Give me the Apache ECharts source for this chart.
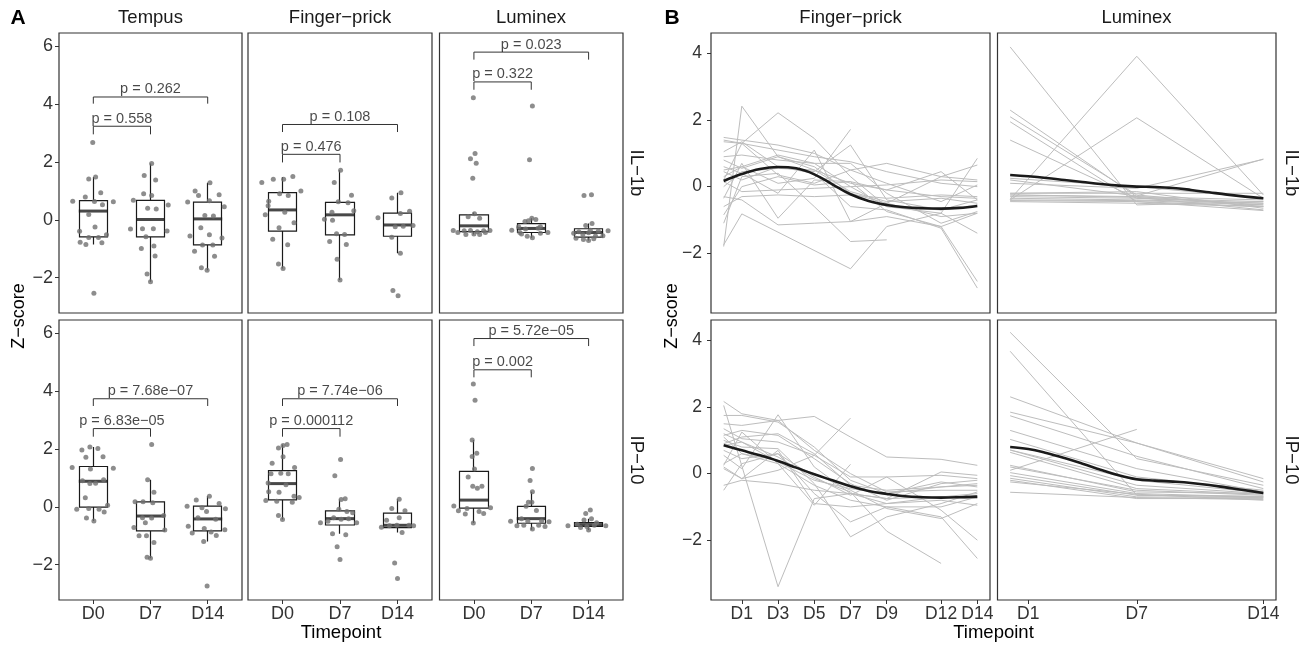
<!DOCTYPE html>
<html>
<head>
<meta charset="utf-8">
<script src="https://cdn.jsdelivr.net/npm/echarts@6/dist/echarts.min.js"></script>
<style>
  html, body { margin: 0; background: #fff; }
  #chart { width: 1307px; height: 646px; }
</style>
</head>
<body>
<div id="chart"></div>
<script>
// ---- data ----
const timepoints = ['D0', 'D7', 'D14'];
const fpDays = [0, 1, 3, 5, 7, 9, 12, 14];
const lumDays = [0, 7, 14];
const smoothDays = [0, 1, 2, 3, 4, 5, 6, 7, 8, 9, 10, 11, 12, 13, 14];
const fpTicks = [1, 3, 5, 7, 9, 12, 14];
const lumTicks = [1, 7, 14];

// box stats per timepoint: [lower whisker, Q1, median, Q3, upper whisker]
const tempusIL1bBox = [[-0.85, -0.59, 0.30, 0.66, 1.48], [-2.14, -0.59, 0.01, 0.67, 1.94], [-1.74, -0.87, 0.03, 0.61, 1.28]];
const fingerIL1bBox = [[-1.68, -0.39, 0.34, 0.94, 1.48], [-2.08, -0.52, 0.17, 0.60, 1.71], [-1.16, -0.57, -0.18, 0.23, 0.93]];
const luminexIL1bBox = [[-0.51, -0.41, -0.21, 0.17, 0.25], [-0.62, -0.44, -0.30, -0.13, 0.05], [-0.72, -0.60, -0.44, -0.31, -0.13]];
const tempusIP10Box = [[-0.49, -0.01, 0.88, 1.39, 2.06], [-1.78, -0.83, -0.32, 0.17, 0.93], [-1.20, -0.83, -0.42, 0.02, 0.36]];
const fingerIP10Box = [[-0.44, 0.24, 0.80, 1.25, 2.15], [-0.93, -0.63, -0.41, -0.14, 0.25], [-0.89, -0.72, -0.64, -0.22, 0.26]];
const luminexIP10Box = [[-0.56, -0.05, 0.23, 1.22, 2.31], [-0.79, -0.57, -0.41, 0.01, 0.52], [-0.80, -0.68, -0.62, -0.55, -0.41]];

// jittered points per timepoint: [jitter offset, z-score]
const tempusIL1bPts = [
  [[-0.01,2.67],[-0.08,1.41],[0.04,1.48],[-0.36,0.64],[0.35,0.62],[-0.14,0.79],[0.13,0.93],[0.02,0.63],[0.16,0.52],[-0.08,0.18],[0.03,-0.25],[-0.24,-0.40],[0.23,-0.52],[-0.08,-0.61],[0.09,-0.61],[-0.23,-0.78],[-0.13,-0.85],[0.15,-0.79],[0.01,-2.54]],
  [[0.02,1.94],[-0.11,1.53],[0.09,1.37],[-0.12,0.90],[0.02,0.84],[-0.30,0.67],[0.31,0.51],[-0.05,0.40],[0.10,0.37],[-0.35,-0.32],[-0.14,-0.31],[0.05,-0.31],[0.29,-0.39],[-0.08,-0.59],[-0.16,-0.99],[0.06,-0.91],[0.08,-1.25],[-0.06,-1.87],[0.00,-2.14]],
  [[0.04,1.28],[-0.22,0.99],[-0.16,0.84],[0.20,0.86],[-0.35,0.61],[0.03,0.66],[0.29,0.45],[-0.05,0.15],[0.10,0.13],[-0.12,-0.28],[-0.31,-0.56],[0.03,-0.52],[0.25,-0.63],[-0.09,-0.87],[0.09,-0.87],[-0.23,-1.09],[0.12,-1.26],[-0.11,-1.66],[-0.01,-1.74]]
];
const fingerIL1bPts = [
  [[0.02,1.40],[-0.16,1.40],[0.18,1.49],[-0.36,1.29],[0.32,0.99],[-0.05,0.90],[0.10,0.84],[-0.24,0.64],[-0.25,0.48],[0.04,0.26],[-0.30,0.17],[0.20,-0.10],[-0.06,-0.28],[-0.17,-0.67],[0.09,-0.86],[-0.07,-1.53],[0.01,-1.68]],
  [[0.01,1.71],[-0.10,1.29],[0.20,0.85],[-0.03,0.62],[0.14,0.59],[-0.14,0.26],[0.24,0.31],[-0.27,0.02],[-0.13,-0.02],[-0.06,-0.48],[0.08,-0.51],[-0.18,-0.75],[0.11,-0.85],[-0.05,-1.36],[0.00,-2.08]],
  [[0.06,0.93],[-0.10,0.75],[0.21,0.29],[0.05,0.22],[-0.34,0.07],[0.10,-0.22],[0.27,-0.20],[-0.04,-0.24],[-0.10,-0.60],[0.05,-1.16],[-0.08,-2.44],[0.01,-2.62]]
];
const luminexIL1bPts = [
  [[-0.01,4.21],[0.02,2.29],[-0.06,2.11],[0.04,1.95],[-0.02,1.43],[0.01,0.21],[-0.10,0.10],[0.10,0.05],[-0.36,-0.37],[-0.28,-0.44],[-0.17,-0.38],[-0.06,-0.37],[0.06,-0.41],[0.17,-0.38],[0.28,-0.37],[-0.14,-0.51],[0.00,-0.49],[0.10,-0.51],[0.20,-0.44]],
  [[0.02,3.93],[-0.03,2.07],[0.01,0.05],[-0.05,-0.03],[0.08,0.01],[-0.11,-0.06],[-0.22,-0.24],[-0.10,-0.32],[0.16,-0.24],[0.12,-0.29],[-0.34,-0.36],[-0.20,-0.44],[-0.07,-0.57],[0.02,-0.62],[0.16,-0.47],[0.29,-0.44],[-0.17,-0.49]],
  [[-0.08,0.84],[0.05,0.86],[0.06,-0.13],[-0.05,-0.20],[-0.17,-0.41],[0.17,-0.39],[0.34,-0.38],[0.03,-0.36],[-0.26,-0.47],[-0.10,-0.51],[0.00,-0.45],[0.12,-0.56],[0.25,-0.55],[-0.22,-0.64],[-0.09,-0.68],[0.00,-0.72],[0.09,-0.66]]
];
const tempusIP10Pts = [
  [[-0.06,2.06],[0.08,2.01],[-0.20,1.96],[-0.13,1.71],[0.17,1.73],[-0.37,1.36],[0.35,1.33],[-0.05,1.30],[-0.19,0.90],[-0.06,0.80],[0.04,0.81],[0.18,0.93],[-0.14,0.31],[-0.29,-0.09],[0.25,0.05],[-0.08,-0.06],[0.10,-0.09],[0.19,-0.18],[-0.12,-0.39],[0.01,-0.49]],
  [[0.02,2.15],[-0.05,0.93],[0.06,0.50],[-0.27,0.17],[-0.13,0.17],[0.04,0.14],[-0.14,-0.38],[0.02,-0.39],[0.23,-0.30],[-0.29,-0.72],[-0.09,-0.55],[0.25,-0.80],[-0.20,-1.00],[-0.07,-1.00],[0.06,-1.23],[-0.06,-1.74],[0.00,-1.78]],
  [[0.03,0.36],[-0.20,0.23],[0.20,0.11],[-0.36,0.02],[-0.10,-0.03],[0.31,-0.07],[-0.17,-0.38],[-0.02,-0.16],[0.14,-0.43],[-0.34,-0.67],[-0.06,-0.75],[-0.27,-0.91],[0.06,-0.87],[0.15,-0.99],[0.30,-0.79],[-0.07,-1.20],[-0.01,-2.74]]
];
const fingerIP10Pts = [
  [[0.08,2.15],[0.01,2.12],[-0.07,2.03],[0.01,1.73],[-0.18,1.50],[0.21,1.36],[-0.03,1.16],[0.10,1.14],[-0.20,1.14],[-0.25,0.82],[0.06,0.76],[-0.24,0.52],[-0.06,0.50],[0.20,0.36],[-0.29,0.22],[-0.10,0.19],[0.17,0.16],[0.29,0.32],[-0.07,-0.30],[0.00,-0.44]],
  [[0.01,1.63],[-0.09,1.07],[0.02,0.25],[0.09,0.28],[-0.02,-0.09],[0.12,-0.16],[0.22,-0.21],[-0.34,-0.55],[-0.21,-0.50],[-0.11,-0.38],[0.02,-0.43],[0.15,-0.41],[0.29,-0.55],[-0.13,-0.93],[0.10,-0.97],[-0.05,-1.38],[0.00,-1.82]],
  [[0.03,0.26],[-0.10,-0.06],[0.13,-0.14],[0.03,-0.38],[-0.19,-0.47],[-0.28,-0.71],[-0.14,-0.66],[-0.01,-0.64],[0.28,-0.66],[0.20,-0.64],[0.08,-0.89],[-0.05,-1.94],[0.00,-2.48]]
];
const luminexIP10Pts = [
  [[-0.01,4.24],[0.02,3.68],[-0.03,2.31],[-0.03,1.74],[0.05,1.85],[0.01,1.30],[-0.10,1.03],[-0.02,0.71],[0.06,0.64],[0.14,0.71],[-0.35,0.03],[-0.12,-0.06],[0.29,-0.03],[-0.27,-0.14],[0.09,-0.16],[0.17,-0.23],[-0.15,-0.25],[-0.01,-0.56]],
  [[0.02,1.32],[-0.02,0.91],[0.02,0.52],[-0.05,0.16],[0.01,0.16],[-0.09,0.02],[0.09,-0.13],[-0.36,-0.50],[-0.17,-0.41],[-0.06,-0.50],[0.18,-0.49],[0.31,-0.52],[-0.25,-0.66],[-0.13,-0.64],[0.02,-0.77],[0.13,-0.64],[0.24,-0.68]],
  [[0.03,-0.11],[-0.05,-0.23],[0.05,-0.41],[-0.08,-0.46],[-0.36,-0.66],[-0.20,-0.60],[-0.03,-0.68],[0.14,-0.55],[0.30,-0.66],[-0.14,-0.72],[0.00,-0.80],[0.10,-0.64]]
];

// p-value brackets: [label, second group, leg bottom, bar height]
const tempusIL1bP = [['p = 0.558', 2, 2.95, 3.23], ['p = 0.262', 3, 4.01, 4.24]];
const fingerIL1bP = [['p = 0.476', 2, 1.98, 2.26], ['p = 0.108', 3, 3.03, 3.29]];
const luminexIL1bP = [['p = 0.322', 2, 4.49, 4.76], ['p = 0.023', 3, 5.53, 5.79]];
const tempusIP10P = [['p = 6.83e\u221205', 2, 2.42, 2.70], ['p = 7.68e\u221207', 3, 3.48, 3.73]];
const fingerIP10P = [['p = 0.000112', 2, 2.42, 2.70], ['p = 7.74e\u221206', 3, 3.48, 3.73]];
const luminexIP10P = [['p = 0.002', 2, 4.47, 4.73], ['p = 5.72e\u221205', 3, 5.55, 5.81]];

// per-subject trajectories (panel B)
const fpIL1bLines = [
  [-1.80, 2.42, 0.90, 0.60, -0.20, -0.50, -0.90, -0.80],
  [0.20, 1.30, 2.22, 1.45, 0.30, -0.60, -0.80, -1.40],
  [1.48, 1.40, 1.25, 1.00, 0.50, 0.70, 0.30, 0.20],
  [1.35, 1.30, 1.10, 0.90, 0.75, 0.45, 0.10, 0.00],
  [1.05, 1.35, 0.60, 0.45, 1.25, -0.40, -0.70, -0.40],
  [0.80, 0.55, 0.90, 0.50, 0.10, -0.10, 0.45, -0.40],
  [0.60, 0.40, -0.20, 1.10, -1.05, -0.50, 0.30, 0.65],
  [-0.35, 0.70, -0.95, 0.20, 0.15, -0.75, -1.20, -2.85],
  [-1.75, -0.82, null, null, -2.47, -1.20, -0.80, 0.85],
  [-0.85, 0.00, 0.30, 0.05, 0.15, -0.10, -0.30, -0.35],
  [0.30, 0.60, 0.95, 0.70, 0.00, -0.60, -0.70, -0.55],
  [-0.60, -0.30, -0.25, -0.30, -0.25, -0.35, -0.25, -0.30],
  [0.15, -0.15, -0.10, -0.05, 0.00, 0.05, 0.20, 0.15],
  [-1.10, 0.30, 0.40, -0.60, -1.65, -1.60, null, null],
  [0.45, 0.20, 0.60, 0.40, -0.60, -0.70, -1.25, -3.05],
  [1.40, 1.30, 0.35, 0.10, 0.50, 0.10, -0.45, 0.05],
  [0.90, 0.95, 0.80, 0.70, 0.70, -0.20, -1.10, -0.75],
  [0.50, 0.60, 0.10, 0.25, 1.72, null, null, null],
  [-0.30, -0.40, -1.15, -1.10, -1.05, -0.90, -1.20, -0.80],
  [0.00, 0.45, 0.55, 0.50, -0.15, -0.45, -0.35, -0.50]
];
const fpIP10Lines = [
  [2.05, null, -3.40, -0.75, -0.60, -0.75, -0.70, -0.60],
  [2.17, 1.80, 1.60, 1.72, 1.10, 0.50, 0.43, 0.25],
  [1.75, 1.75, 1.55, 0.80, -0.20, -0.60, -0.40, -0.35],
  [1.50, 1.45, 1.60, 0.70, 0.00, -0.55, -0.50, -0.50],
  [1.35, 1.05, 0.95, 0.55, -0.10, -0.10, -1.10, -2.00],
  [1.15, 1.30, 1.15, 0.45, -0.30, -0.80, -0.30, -0.20],
  [1.00, 0.80, 0.75, -0.30, -1.90, -1.30, -0.90, -0.55],
  [0.85, 0.95, 0.50, -0.15, -0.55, -1.73, -2.70, null],
  [0.55, 0.15, 1.77, 0.20, -0.60, -0.90, -0.70, -0.75],
  [0.30, 0.60, 0.40, 0.00, -0.50, -1.05, -1.35, -0.90],
  [0.25, 1.25, 0.30, -0.95, 0.28, null, null, null],
  [0.20, -0.15, 0.10, 0.55, 1.67, null, null, null],
  [-0.35, -0.20, -0.30, -0.50, -0.60, -0.75, 0.05, -0.05],
  [-0.50, 0.30, 0.60, -0.10, -0.65, -0.10, -0.05, -0.15],
  [0.15, -0.15, 0.70, -0.90, -1.00, -0.90, -0.80, -0.95],
  [0.90, 1.10, 1.20, 0.60, -0.35, -0.50, -0.40, -0.30],
  [1.20, 0.95, 0.35, -0.20, -0.45, -0.60, -0.25, -0.40],
  [0.70, 0.45, 0.60, -0.60, -1.45, -1.00, -1.00, -0.70],
  [1.10, 0.60, 0.30, -0.35, -0.80, -1.00, -1.30, -2.55]
];
const lumIL1bLines = [
  [4.20, -0.55, -0.45], [-0.38, 3.92, -0.25], [-0.40, 2.07, -0.35], [2.30, -0.30, -0.55],
  [2.10, -0.25, -0.60], [1.95, -0.45, -0.60], [1.40, -0.35, -0.50], [0.20, -0.28, 0.83],
  [0.10, -0.05, 0.82], [-0.20, -0.20, -0.20], [-0.25, -0.30, -0.40], [-0.30, -0.35, -0.45],
  [-0.35, -0.40, -0.50], [-0.40, -0.42, -0.55], [-0.45, -0.50, -0.60], [-0.20, -0.15, -0.65],
  [-0.25, -0.32, -0.70], [-0.42, -0.45, -0.72], [0.25, 0.00, -0.35]
];
const lumIP10Lines = [
  [4.25, 0.45, -0.35], [3.68, -0.65, -0.70], [2.31, 0.92, -0.15], [1.85, 0.92, -0.25],
  [1.74, 0.52, -0.45], [1.30, 0.15, -0.55], [1.03, -0.10, -0.50], [0.10, 1.33, null],
  [0.71, -0.35, -0.60], [0.64, -0.45, -0.62], [0.25, -0.55, -0.60], [0.20, -0.50, -0.65],
  [0.03, -0.60, -0.70], [-0.06, -0.65, -0.68], [-0.14, -0.70, -0.72], [-0.20, -0.75, -0.75],
  [-0.25, -0.62, -0.80], [-0.56, -0.72, -0.78], [0.71, -0.20, -0.58]
];

// smoothed trends
const fpIL1bSmooth = [0.17, 0.38, 0.53, 0.59, 0.55, 0.37, 0.07, -0.23, -0.43, -0.55, -0.62, -0.65, -0.66, -0.64, -0.58];
const fpIP10Smooth = [0.85, 0.70, 0.55, 0.38, 0.18, -0.02, -0.20, -0.38, -0.52, -0.61, -0.68, -0.71, -0.72, -0.71, -0.69];
const lumIL1bSmooth = [0.35, 0.31, 0.26, 0.20, 0.14, 0.08, 0.03, 0.00, -0.01, -0.04, -0.10, -0.17, -0.24, -0.30, -0.35];
const lumIP10Smooth = [0.80, 0.74, 0.62, 0.47, 0.30, 0.12, -0.05, -0.17, -0.21, -0.24, -0.28, -0.34, -0.42, -0.50, -0.58];

// ---- chart ----
const chart = echarts.init(document.getElementById('chart'));
const FONT = 'Liberation Sans, Arial, sans-serif';
const INK = '#1a1a1a';
const TICK = '#333';
const minus = v => String(v).replace('-', '\u2212');

const rows = [[33, 280], [320, 280]];
const colsA = [[59, 183], [248, 184], [439.5, 183.5]];
const colsB = [[711, 279], [997.5, 278.5]];

const panelsA = [
  { box: tempusIL1bBox, pts: tempusIL1bPts, p: tempusIL1bP },
  { box: fingerIL1bBox, pts: fingerIL1bPts, p: fingerIL1bP },
  { box: luminexIL1bBox, pts: luminexIL1bPts, p: luminexIL1bP },
  { box: tempusIP10Box, pts: tempusIP10Pts, p: tempusIP10P },
  { box: fingerIP10Box, pts: fingerIP10Pts, p: fingerIP10P },
  { box: luminexIP10Box, pts: luminexIP10Pts, p: luminexIP10P }
];
const panelsB = [
  { days: fpDays, lines: fpIL1bLines, smooth: fpIL1bSmooth, ticks: fpTicks },
  { days: lumDays, lines: lumIL1bLines, smooth: lumIL1bSmooth, ticks: lumTicks },
  { days: fpDays, lines: fpIP10Lines, smooth: fpIP10Smooth, ticks: fpTicks },
  { days: lumDays, lines: lumIP10Lines, smooth: lumIP10Smooth, ticks: lumTicks }
];

const grid = [], xAxis = [], yAxis = [], series = [];

function addGrid(col, row) {
  grid.push({
    left: col[0], top: row[0], width: col[1], height: row[1],
    show: true, borderColor: '#333', borderWidth: 1.2, backgroundColor: '#fff',
    outerBoundsMode: 'none'
  });
  return grid.length - 1;
}

// axis line hidden (the grid border is the frame); never snap to zero
const noLine = { show: false, onZero: false };
function tickCfg(show, values) {
  return { show: show, customValues: values, length: 4, lineStyle: { color: TICK, width: 1 } };
}
function labelCfg(show, values, margin, size, fmt) {
  return { show: show, customValues: values, margin: margin, fontSize: size, color: TICK, fontFamily: FONT, formatter: fmt };
}

// panel A
panelsA.forEach((pnl, i) => {
  const r = Math.floor(i / 3), c = i % 3;
  const g = addGrid(colsA[c], rows[r]);
  xAxis.push({
    gridIndex: g, type: 'value', min: 0.4, max: 3.6, position: 'bottom',
    axisLine: noLine, splitLine: { show: false },
    axisTick: tickCfg(r === 1, [1, 2, 3]),
    axisLabel: labelCfg(r === 1, [1, 2, 3], 5, 18, v => timepoints[Math.round(v) - 1])
  });
  yAxis.push({
    gridIndex: g, type: 'value', min: -3.22, max: 6.45, position: 'left',
    axisLine: noLine, splitLine: { show: false },
    axisTick: tickCfg(c === 0, [-2, 0, 2, 4, 6]),
    axisLabel: labelCfg(c === 0, [-2, 0, 2, 4, 6], 6, 18, minus)
  });
  series.push({
    type: 'candlestick', xAxisIndex: g, yAxisIndex: g, barWidth: 29, silent: true, z: 2,
    data: pnl.box.map((b, k) => [k + 1, b[1], b[3], b[0], b[4]]),
    itemStyle: { color: '#fff', color0: '#fff', borderColor: INK, borderColor0: INK, borderWidth: 1.2 }
  });
  series.push({
    type: 'scatter', xAxisIndex: g, yAxisIndex: g, silent: true, z: 3,
    symbol: 'rect', symbolSize: [29, 3],
    data: pnl.box.map((b, k) => [k + 1, b[2]]),
    itemStyle: { color: INK }
  });
  series.push({
    type: 'scatter', xAxisIndex: g, yAxisIndex: g, silent: true, z: 4,
    symbolSize: 5,
    data: pnl.pts.flatMap((arr, k) => arr.map(p => [k + 1 + p[0], p[1]])),
    itemStyle: { color: '#707070' }
  });
  pnl.p.forEach(b => {
    series.push({
      type: 'line', xAxisIndex: g, yAxisIndex: g, silent: true, z: 3,
      symbol: 'none', lineStyle: { color: '#333', width: 1 },
      data: [[1, b[2]], [1, b[3]], [b[1], b[3]], [b[1], b[2]]]
    });
    series.push({
      type: 'scatter', xAxisIndex: g, yAxisIndex: g, silent: true, z: 5,
      symbolSize: 0,
      data: [{ name: b[0], value: [(1 + b[1]) / 2, b[3]] }],
      label: { show: true, position: 'top', distance: 0, formatter: '{b}', fontSize: 14.5, color: INK, fontFamily: FONT }
    });
  });
});

// panel B
panelsB.forEach((pnl, i) => {
  const r = Math.floor(i / 2), c = i % 2;
  const g = addGrid(colsB[c], rows[r]);
  xAxis.push({
    gridIndex: g, type: 'value', min: -0.7, max: 14.7, position: 'bottom',
    axisLine: noLine, splitLine: { show: false },
    axisTick: tickCfg(r === 1, pnl.ticks),
    axisLabel: labelCfg(r === 1, pnl.ticks, 5, 17.5, v => 'D' + v)
  });
  yAxis.push({
    gridIndex: g, type: 'value', min: -3.8, max: 4.62, position: 'left',
    axisLine: noLine, splitLine: { show: false },
    axisTick: tickCfg(c === 0, [-2, 0, 2, 4]),
    axisLabel: labelCfg(c === 0, [-2, 0, 2, 4], 9, 17.5, minus)
  });
  pnl.lines.forEach(vals => {
    series.push({
      type: 'line', xAxisIndex: g, yAxisIndex: g, silent: true, z: 2,
      symbol: 'none', lineStyle: { color: '#bdbdbd', width: 1 },
      data: pnl.days.map((d, k) => [d, vals[k]]).filter(p => p[1] != null)
    });
  });
  series.push({
    type: 'line', xAxisIndex: g, yAxisIndex: g, silent: true, z: 5,
    symbol: 'none', smooth: 0.4, lineStyle: { color: INK, width: 2.6 },
    data: smoothDays.map((d, k) => [d, pnl.smooth[k]])
  });
});

// text: strips, axis titles, panel tags
function txt(x, y, s, size, opts) {
  return Object.assign({
    type: 'text', x: x, y: y, silent: true,
    style: { text: s, font: (opts && opts.bold ? 'bold ' : '') + size + 'px ' + FONT, fill: (opts && opts.fill) || INK, align: 'center', verticalAlign: 'middle' }
  }, opts && opts.rotation != null ? { rotation: opts.rotation } : {});
}
const graphic = [
  txt(18, 18, 'A', 21, { bold: true, fill: '#000' }),
  txt(672, 18, 'B', 21, { bold: true, fill: '#000' }),
  txt(150.5, 18, 'Tempus', 18.5),
  txt(340, 18, 'Finger\u2212prick', 18.5),
  txt(531, 18, 'Luminex', 18.5),
  txt(850.5, 18, 'Finger\u2212prick', 18.5),
  txt(1136.5, 18, 'Luminex', 18.5),
  txt(636, 173, 'IL\u22121b', 18.5, { rotation: -Math.PI / 2 }),
  txt(636, 460, 'IP\u221210', 18.5, { rotation: -Math.PI / 2 }),
  txt(1291, 173, 'IL\u22121b', 18.5, { rotation: -Math.PI / 2 }),
  txt(1291, 460, 'IP\u221210', 18.5, { rotation: -Math.PI / 2 }),
  txt(19, 316, 'Z\u2212score', 18, { rotation: Math.PI / 2, fill: '#000' }),
  txt(672, 316, 'Z\u2212score', 18, { rotation: Math.PI / 2, fill: '#000' }),
  txt(341, 633, 'Timepoint', 18.5, { fill: '#000' }),
  txt(993.5, 633, 'Timepoint', 18.5, { fill: '#000' })
];

chart.setOption({
  animation: false,
  backgroundColor: '#fff',
  textStyle: { fontFamily: FONT },
  grid: grid,
  xAxis: xAxis,
  yAxis: yAxis,
  series: series,
  graphic: graphic
});
window.onresize = () => chart.resize();
</script>
</body>
</html>
